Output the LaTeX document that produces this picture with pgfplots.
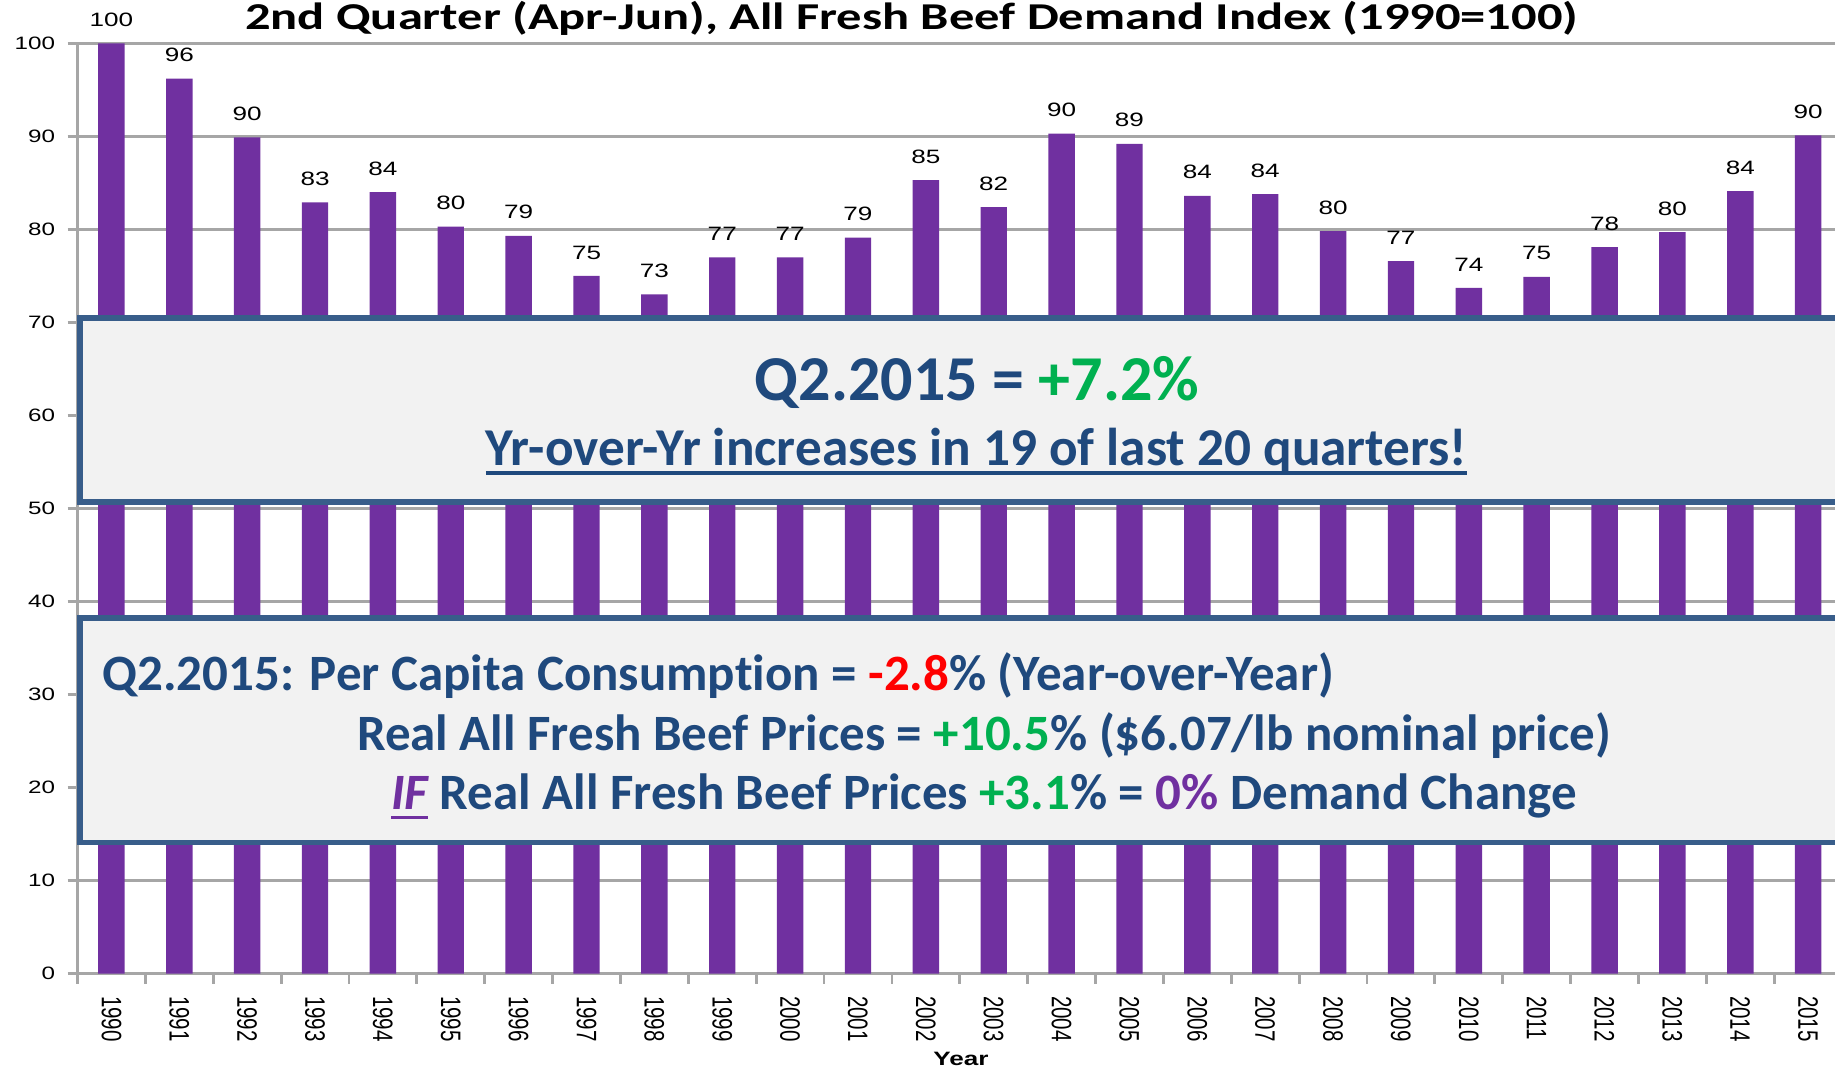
\documentclass[border=0pt]{standalone}
\usepackage{fontspec}
\setmainfont{Carlito}[Ligatures=NoCommon]
\newfontfamily\lab[FakeStretch=1.35]{Liberation Sans}
\newfontfamily\labx[FakeStretch=0.73]{Liberation Sans}
\newfontfamily\ttl[FakeStretch=1.33]{Carlito}
\usepackage{pgfplots}
\pgfplotsset{compat=1.18}

\definecolor{barpurple}{HTML}{7030A0}
\definecolor{navy}{HTML}{1F497D}
\definecolor{edge}{HTML}{385D8A}
\definecolor{boxfill}{HTML}{F2F2F2}
\definecolor{grn}{HTML}{00B050}
\definecolor{gridc}{HTML}{A6A6A6}

% thick underline
\newcommand\thickul[1]{\setbox0\hbox{#1}\rlap{\rule[-2.6pt]{\wd0}{1pt}}\box0}

\begin{document}
\begin{tikzpicture}
\begin{axis}[
  scale only axis, width=176.46mm, height=93.04mm,
  xmin=1989.5, xmax=2015.5, ymin=0, ymax=100,
  axis x line*=bottom, axis y line*=left,
  axis line style={gridc, line width=0.8pt},
  xtick={1990,...,2015},
  minor xtick={1989.5,1990.5,...,2015.5},
  ytick={0,10,...,100},
  ymajorgrids, grid style={gridc, line width=0.8pt},
  major x tick style={draw=none},
  tick align=outside, major tick length=1mm, minor tick length=1mm,
  tick style={gridc, line width=0.8pt},
  minor x tick style={gridc, line width=0.8pt},
  /pgf/number format/assume math mode=true,
  /pgf/number format/1000 sep={},
  yticklabel style={font=\lab\fontsize{5.1}{6}\selectfont, black},
  xticklabel style={font=\labx\fontsize{8}{9}\selectfont, rotate=-90, anchor=west, black},
  ybar, bar width=2.64mm,
  nodes near coords,
  nodes near coords style={font=\lab\fontsize{5.5}{6}\selectfont, black,
    /pgf/number format/fixed, /pgf/number format/precision=0,
    anchor=south, inner sep=0pt, yshift=1.6mm},
]
\addplot[fill=barpurple, draw=none] coordinates {
 (1990,100) (1991,96.2) (1992,89.9) (1993,82.9) (1994,84.0) (1995,80.3)
 (1996,79.3) (1997,75.0) (1998,73.0) (1999,77.0) (2000,77.0) (2001,79.1)
 (2002,85.3) (2003,82.4) (2004,90.3) (2005,89.2) (2006,83.6) (2007,83.8)
 (2008,79.8) (2009,76.6) (2010,73.7) (2011,74.9) (2012,78.1) (2013,79.7)
 (2014,84.1) (2015,90.1)
};
\end{axis}

% title and axis label
\node[anchor=base, font=\ttl\bfseries\fontsize{10.8}{13}\selectfont] at (83.42mm,94.4mm)
  {2nd Quarter (Apr-Jun), All Fresh Beef Demand Index (1990=100)};
\node[anchor=base, font=\lab\bfseries\fontsize{5.5}{6}\selectfont] at (88.35mm,-9.23mm) {Year};

% upper box
\draw[edge, line width=1.6pt, fill=boxfill] (0.25mm,47.15mm) rectangle (190mm,65.57mm);
\node[anchor=base, inner sep=0pt, text=navy, font=\bfseries\fontsize{18.2}{22}\selectfont]
  at (89.95mm,57.27mm) {Q2.2015 = \textcolor{grn}{+7.2\%}};
\node[anchor=base, inner sep=0pt, text=navy, font=\bfseries\fontsize{15.15}{18}\selectfont]
  at (89.9mm,50.8mm) {\thickul{Yr-over-Yr increases in 19 of last 20 quarters!}};

% lower box
\draw[edge, line width=1.6pt, fill=boxfill] (0.25mm,13.11mm) rectangle (190mm,35.57mm);
\node[anchor=base west, inner sep=0pt, text=navy, font=\bfseries\fontsize{14.5}{17}\selectfont]
  at (2.43mm,28.32mm) {Q2.2015: Per Capita Consumption = \textcolor{red}{-2.8}\% (Year-over-Year)};
\node[anchor=base, inner sep=0pt, text=navy, font=\bfseries\fontsize{14.5}{17}\selectfont]
  at (90.67mm,22.35mm) {Real All Fresh Beef Prices = \textcolor{grn}{+10.5}\% (\$6.07/lb nominal price)};
\node[anchor=base, inner sep=0pt, text=navy, font=\bfseries\fontsize{14.5}{17}\selectfont]
  at (90.67mm,16.38mm) {\textcolor{barpurple}{\thickul{\itshape IF}} Real All Fresh Beef Prices \textcolor{grn}{+3.1}\% = \textcolor{barpurple}{0\%} Demand Change};

\pgfresetboundingbox
\useasboundingbox (-7.75mm,-9.73mm) rectangle (175.75mm,97.37mm);
\end{tikzpicture}
\end{document}
